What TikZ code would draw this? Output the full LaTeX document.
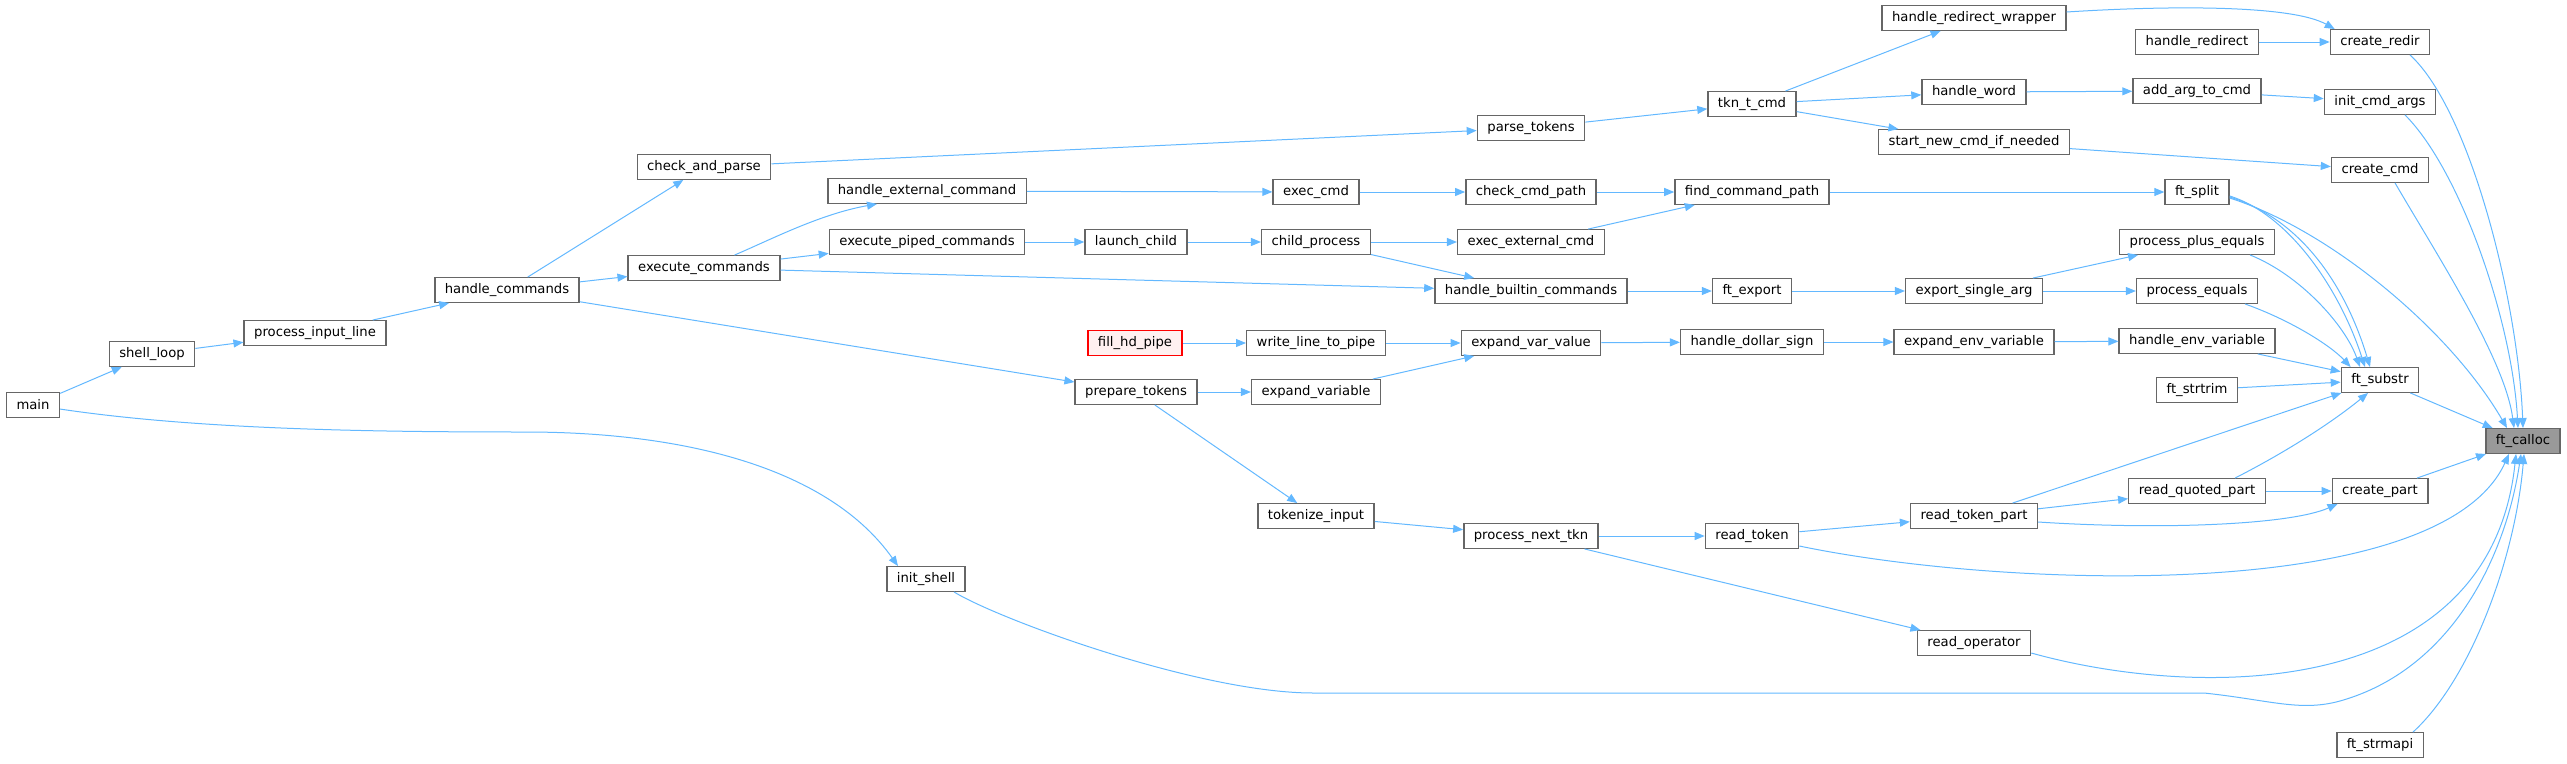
\documentclass[tikz,border=0pt]{standalone}
\usepackage{fontspec}
\setmainfont{DejaVu Sans}
\usetikzlibrary{arrows.meta}
\definecolor{edgeblue}{HTML}{63B8FF}
\definecolor{boxgray}{HTML}{666666}
\definecolor{hotfill}{HTML}{FFF0F0}
\definecolor{callfill}{HTML}{999999}
\begin{document}
\begin{tikzpicture}[x=1pt, y=-1pt, font=\fontsize{13.2}{15}\selectfont,
  fn/.style={draw=boxgray, fill=white, line width=1.4pt, inner xsep=10pt, inner ysep=0pt, minimum height=24.5pt},
  edge/.style={draw=edgeblue, line width=1pt, -{Triangle[length=10pt,width=8pt]}}]
  \useasboundingbox (0,0) rectangle (2567,763);
  % functions, one column per rank
  \foreach \x/\y/\id/\name in {33/405/main/main, 152/354/sloop/shell\_loop, 315/333/pinput/process\_input\_line,
      507/290/hcmds/handle\_commands, 704/167/chkparse/check\_and\_parse, 704/268/execcmds/execute\_commands,
      927/191/hext/handle\_external\_command, 927/242/piped/execute\_piped\_commands, 926/579/ishell/init\_shell,
      1136/392/prep/prepare\_tokens, 1136/242/lchild/launch\_child,
      1316/192/execcmd/exec\_cmd, 1316/242/cproc/child\_process, 1316/343/wline/write\_line\_to\_pipe,
      1316/392/expvar/expand\_variable, 1316/516/tokin/tokenize\_input,
      1531/128/ptok/parse\_tokens, 1531/192/chkpath/check\_cmd\_path, 1531/242/execext/exec\_external\_cmd,
      1531/291/hbuiltin/handle\_builtin\_commands, 1531/343/expval/expand\_var\_value, 1531/536/pnext/process\_next\_tkn,
      1752/104/tkncmd/tkn\_t\_cmd, 1752/192/findpath/find\_command\_path, 1752/291/export/ft\_export,
      1752/342/hdollar/handle\_dollar\_sign, 1752/536/rtok/read\_token,
      1974/18/hrwrap/handle\_redirect\_wrapper, 1974/92/hword/handle\_word, 1974/142/startnew/start\_new\_cmd\_if\_needed,
      1974/291/expsingle/export\_single\_arg, 1974/342/expenv/expand\_env\_variable, 1974/516/rtpart/read\_token\_part,
      1974/643/rop/read\_operator,
      2197/42/hredir/handle\_redirect, 2197/91/addarg/add\_arg\_to\_cmd, 2197/192/split/ft\_split,
      2197/242/pplus/process\_plus\_equals, 2197/291/peq/process\_equals, 2197/341/henv/handle\_env\_variable,
      2197/390/strtrim/ft\_strtrim, 2197/491/rquoted/read\_quoted\_part,
      2380/42/credir/create\_redir, 2380/102/initargs/init\_cmd\_args, 2380/170/ccmd/create\_cmd,
      2380/380/substr/ft\_substr, 2380/491/cpart/create\_part, 2380/745/strmapi/ft\_strmapi} {
    \node[fn] (\id) at (\x,\y) {\name};
  }
  \node[fn, draw=red, fill=hotfill] (fillhd) at (1135,343) {fill\_hd\_pipe};
  \node[fn, fill=callfill] (calloc) at (2523,441) {ft\_calloc};
  % straight calls
  \foreach \a/\b in {main/sloop, sloop/pinput, pinput/hcmds, hcmds/chkparse, hcmds/execcmds, hcmds/prep,
      chkparse/ptok, execcmds/piped, execcmds/hbuiltin, hext/execcmd, piped/lchild, lchild/cproc,
      cproc/execext, cproc/hbuiltin, execcmd/chkpath, chkpath/findpath, execext/findpath, findpath/split,
      ptok/tkncmd, tkncmd/hrwrap, tkncmd/hword, tkncmd/startnew, hredir/credir, hword/addarg,
      addarg/initargs, startnew/ccmd, hbuiltin/export, export/expsingle, expsingle/pplus, expsingle/peq,
      fillhd/wline, wline/expval, prep/expvar, prep/tokin, expvar/expval, expval/hdollar, hdollar/expenv,
      expenv/henv, henv/substr, strtrim/substr, substr/calloc, tokin/pnext, pnext/rtok, pnext/rop,
      rtok/rtpart, rtpart/substr, rtpart/rquoted, rquoted/cpart, cpart/calloc} {
    \draw[edge] (\a) -- (\b);
  }
  % curved calls
  \draw[edge] (main) .. controls (200,430) and (380,432) .. (525,432) .. controls (690,432) and (830,470) .. ([xshift=-28pt]ishell.north);
  \draw[edge] (execcmds) .. controls (770,240) and (820,214) .. ([xshift=-50pt]hext.south);
  \draw[edge] ([yshift=6pt]hrwrap.east) .. controls (2160,6) and (2290,4) .. ([xshift=5pt]credir.north west);
  \draw[edge] ([xshift=30pt]credir.south) .. controls (2470,110) and (2518,300) .. (calloc.north);
  \draw[edge] ([xshift=25pt]initargs.south) .. controls (2460,170) and (2512,320) .. ([xshift=-5pt]calloc.north);
  \draw[edge] ([xshift=15pt]ccmd.south) .. controls (2440,260) and (2505,360) .. ([xshift=-9pt]calloc.north);
  \draw[edge] ([yshift=-6pt]split.east) .. controls (2330,230) and (2450,330) .. ([xshift=-16pt]calloc.north);
  \draw[edge] ([yshift=-4pt]split.east) .. controls (2290,215) and (2340,290) .. ([xshift=-15pt]substr.north);
  \draw[edge] ([yshift=-5pt]split.east) .. controls (2310,222) and (2350,300) .. ([xshift=-10pt]substr.north);
  \draw[edge] ([xshift=53pt]pplus.south) .. controls (2300,275) and (2345,325) .. ([xshift=-20pt]substr.north);
  \draw[edge] ([xshift=48pt]peq.south) .. controls (2290,320) and (2330,345) .. ([xshift=10pt]substr.north west);
  \draw[edge] ([xshift=38pt]rquoted.north) .. controls (2290,450) and (2335,420) .. ([xshift=-12pt]substr.south);
  \draw[edge] ([yshift=-6pt]rtpart.east) .. controls (2160,530) and (2290,525) .. ([xshift=6pt]cpart.south west);
  \draw[edge] ([yshift=-10pt]rtok.east) .. controls (2000,588) and (2440,605) .. ([xshift=-14pt]calloc.south);
  \draw[edge] ([yshift=-10pt]rop.east) .. controls (2200,700) and (2490,700) .. ([xshift=-7pt]calloc.south);
  \draw[edge] ([xshift=28pt]ishell.south) .. controls (1000,620) and (1200,693) .. (1313,693) -- (2204,693)
    .. controls (2270,700) and (2300,712) .. (2340,701) .. controls (2450,670) and (2505,560) .. ([xshift=-2pt]calloc.south);
  \draw[edge] ([xshift=33pt]strmapi.north) .. controls (2470,680) and (2515,560) .. ([xshift=1pt]calloc.south);
\end{tikzpicture}
\end{document}
